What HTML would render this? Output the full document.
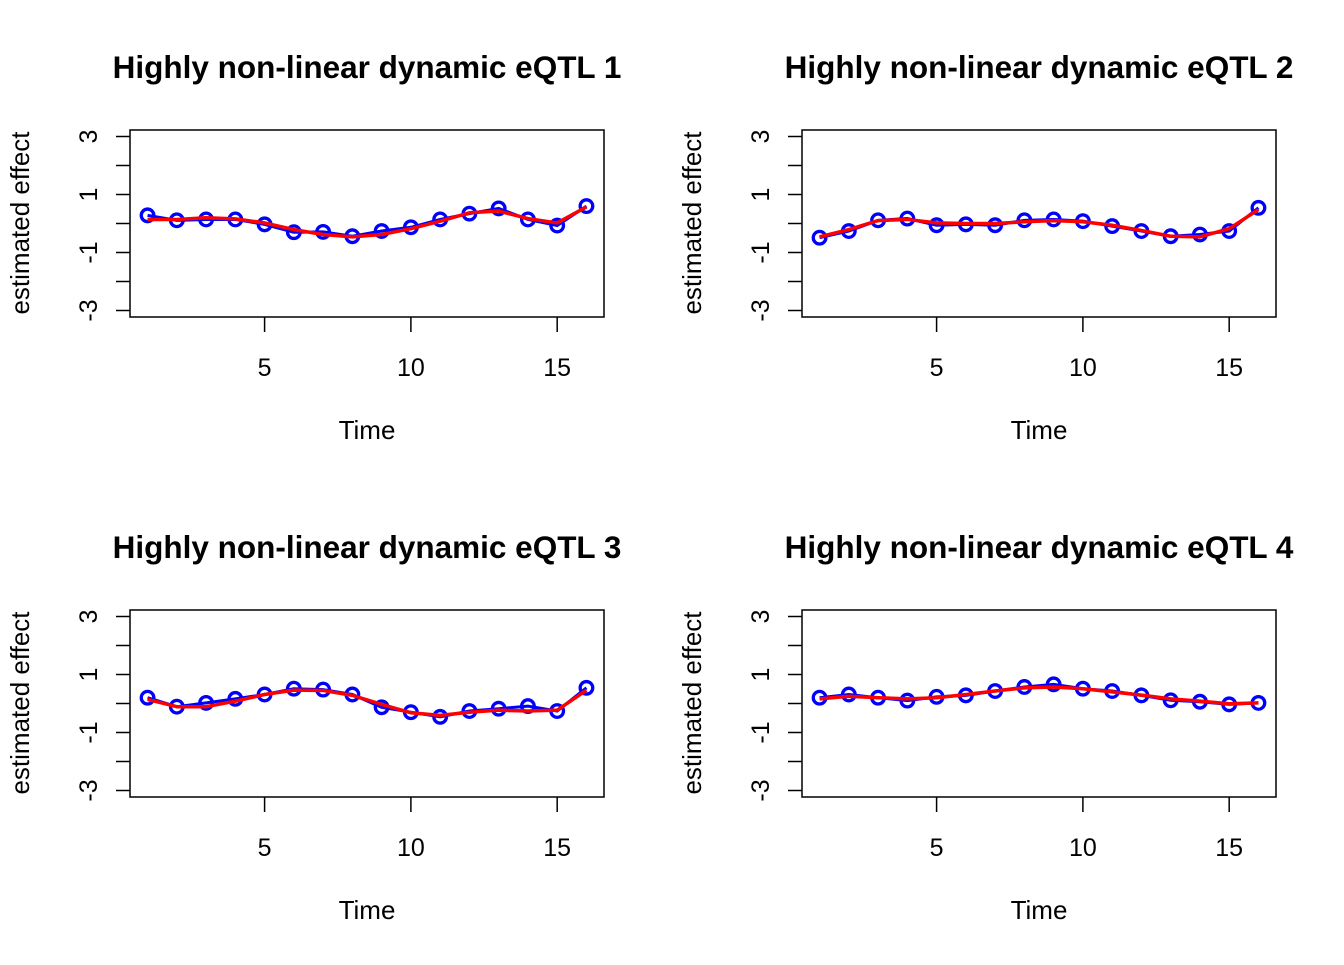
<!DOCTYPE html>
<html><head><meta charset="utf-8"><style>
body{margin:0;background:#fff}
svg text{font-family:"Liberation Sans",Arial,sans-serif;fill:#000}
</style></head><body>
<svg id="chart" width="1344" height="960" xmlns="http://www.w3.org/2000/svg"></svg>
<script>
const times = [1,2,3,4,5,6,7,8,9,10,11,12,13,14,15,16];
const xTicks = [5,10,15];
const yTicks = [3,2,1,0,-1,-2,-3];
const yLabels = [3,1,-1,-3];
const titles = ["Highly non-linear dynamic eQTL 1","Highly non-linear dynamic eQTL 2","Highly non-linear dynamic eQTL 3","Highly non-linear dynamic eQTL 4"];
const blue1 = [0.28,0.11,0.14,0.14,-0.03,-0.30,-0.29,-0.44,-0.26,-0.13,0.14,0.34,0.52,0.14,-0.07,0.60];
const red1  = [0.14,0.14,0.20,0.16,0.02,-0.21,-0.38,-0.46,-0.38,-0.18,0.08,0.37,0.43,0.17,0.02,0.57];
const blue2 = [-0.49,-0.26,0.11,0.17,-0.06,-0.03,-0.06,0.11,0.14,0.08,-0.09,-0.26,-0.44,-0.38,-0.26,0.54];
const red2  = [-0.46,-0.21,0.10,0.14,0.02,0,0,0.06,0.10,0.06,-0.06,-0.24,-0.44,-0.46,-0.18,0.48];
const blue3 = [0.20,-0.11,0.02,0.16,0.31,0.51,0.48,0.31,-0.13,-0.30,-0.46,-0.26,-0.18,-0.09,-0.26,0.54];
const red3  = [0.14,-0.11,-0.11,0.08,0.31,0.46,0.45,0.28,-0.03,-0.32,-0.41,-0.30,-0.23,-0.26,-0.23,0.46];
const blue4 = [0.20,0.31,0.20,0.10,0.23,0.28,0.43,0.57,0.66,0.51,0.43,0.28,0.11,0.06,-0.03,0.02];
const red4  = [0.16,0.25,0.20,0.16,0.20,0.31,0.43,0.54,0.57,0.51,0.40,0.29,0.16,0.08,-0.01,0.02];
const blues=[blue1,blue2,blue3,blue4], reds=[red1,red2,red3,red4];

const NS="http://www.w3.org/2000/svg";
const svg=document.getElementById('chart');
function mk(tag,attrs,parent,text){const e=document.createElementNS(NS,tag);for(const k in attrs)e.setAttribute(k,attrs[k]);if(text!==undefined)e.textContent=text;parent.appendChild(e);return e;}
const panels=[[130,130],[802,130],[130,610],[802,610]];
const W=474,H=187;
panels.forEach((p,i)=>{
  const [L,T]=p;
  const g=mk('g',{},svg);
  
  
  const xs=v=>L+(v-0.4)/16.2*W;
  const ys=v=>T+93.5-v*29;
  const t=mk('text',{x:L+237,y:T-52,'text-anchor':'middle','font-size':'31.5','font-weight':'bold'},g,titles[i]);
  
  
  const box=mk('rect',{x:L,y:T,width:W,height:H,fill:'none',stroke:'#000','stroke-width':'1.5'},g);
  
  
  yTicks.forEach(v=>{const l=mk('line',{x1:L-14,x2:L,y1:ys(v),y2:ys(v),stroke:'#000','stroke-width':'1.5'},g);
    
    });
  yLabels.forEach(v=>{const y=ys(v);const tx=mk('text',{x:0,y:0,'text-anchor':'middle','font-size':'25',transform:`translate(${L-33},${y}) rotate(-90)`},g,String(v));
    
    });
  const yl=mk('text',{x:0,y:0,'text-anchor':'middle','font-size':'26',transform:`translate(${L-101},${T+93}) rotate(-90)`},g,'estimated effect');
  
  
  xTicks.forEach(v=>{const l=mk('line',{x1:xs(v),x2:xs(v),y1:T+H,y2:T+H+15,stroke:'#000','stroke-width':'1.5'},g);
    
    
    const tx=mk('text',{x:xs(v),y:T+H+59,'text-anchor':'middle','font-size':'25'},g,String(v));
    
    });
  const xl=mk('text',{x:L+237,y:T+309,'text-anchor':'middle','font-size':'26'},g,'Time');
  
  
  const bp=mk('polyline',{points:times.map((t,j)=>xs(t)+','+ys(blues[i][j])).join(' '),fill:'none',stroke:'#0000ff','stroke-width':'3'},g);
  
  
  times.forEach((t,j)=>{const c=mk('circle',{cx:xs(t),cy:ys(blues[i][j]),r:6.3,fill:'none',stroke:'#0000ff','stroke-width':'3.3'},g);
    
    });
  const rp=mk('polyline',{points:times.map((t,j)=>xs(t)+','+ys(reds[i][j])).join(' '),fill:'none',stroke:'#ff0000','stroke-width':'3.5','stroke-linejoin':'round'},g);
  
  
});
</script>
</body></html>
